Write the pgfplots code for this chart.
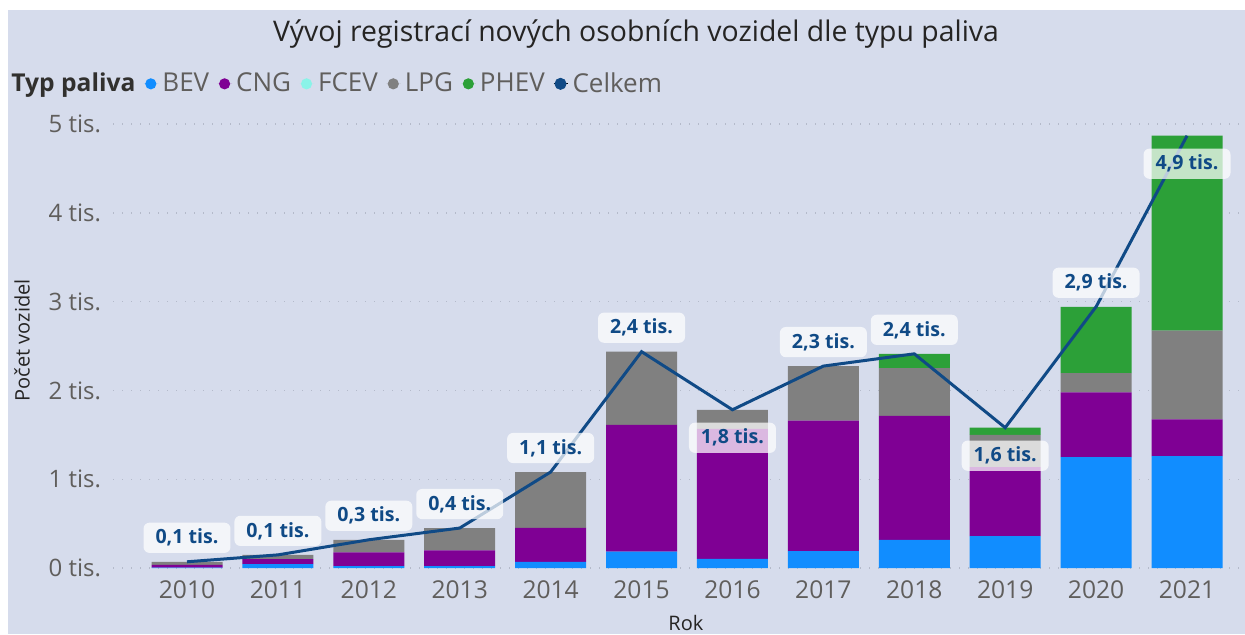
\documentclass[border=0pt]{standalone}
\usepackage{fontspec}
\setmainfont{Open Sans}
\usepackage{pgfplots}
\usepackage{pgfplotstable}
\pgfplotsset{compat=1.18}

\definecolor{bg}{RGB}{214,220,236}
\definecolor{cBEV}{RGB}{17,141,255}
\definecolor{cCNG}{RGB}{127,0,148}
\definecolor{cFCEV}{RGB}{138,243,232}
\definecolor{cLPG}{RGB}{128,128,128}
\definecolor{cPHEV}{RGB}{44,160,56}
\definecolor{cTot}{RGB}{16,74,134}
\definecolor{txt}{RGB}{96,94,92}
\definecolor{ttl}{RGB}{37,36,35}
\definecolor{gridc}{RGB}{180,186,202}

\pgfplotstableread{
x year BEV CNG FCEV LPG PHEV total
0 2010 5 30 0 35 0 70
1 2011 45 55 0 48 0 148
2 2012 22 154 0 142 0 318
3 2013 22 178 0 250 0 450
4 2014 68 383 0 630 0 1081
5 2015 184 1427 0 825 0 2436
6 2016 102 1465 0 215 0 1782
7 2017 191 1468 0 615 0 2274
8 2018 318 1396 0 536 162 2412
9 2019 358 777 0 365 80 1580
10 2020 1250 727 0 218 747 2942
11 2021 1261 412 0 999 2196 4868
}\data

\pgfplotstableread{
x total lab
0 70 0,1
1 148 0,1
2 318 0,3
3 450 0,4
4 1081 1,1
5 2436 2,4
7 2274 2,3
8 2412 2,4
10 2942 2,9
}\labAbove

\pgfplotstableread{
x total lab
6 1782 1,8
9 1580 1,6
11 4868 4,9
}\labBelow

\tikzset{
  lab/.style={font=\bfseries\fontsize{9.8}{12}\selectfont, text=cTot,
    fill=white, fill opacity=0.72, text opacity=1, rounded corners=3pt,
    inner xsep=6pt, inner ysep=3.2pt, anchor=center},
}

\pgfplotsset{
  common/.style={
    scale only axis,
    width=565pt, height=222pt,
    at={(56.5pt,33pt)}, anchor=south west,
    xmin=-0.814, xmax=11.616,
    ymin=0, ymax=5000,
    clip=false,
  },
  dotleg/.style={legend image code/.code={\path (-3.5pt,0pt) -- (3.8pt,0pt); \fill[#1] (0pt,0pt) circle (2.8pt);}},
}

\begin{document}
\begin{tikzpicture}
\useasboundingbox (0,0) rectangle (622.5pt,317pt);
\clip (0,0) rectangle (622.5pt,317pt);
\fill[white] (0,0) rectangle (622.5pt,317pt);
\fill[bg] (4pt,0) rectangle (622.5pt,312pt);

\begin{axis}[
  common,
  ybar stacked,
  bar width=35.5pt,
  axis line style={draw=none},
  tick style={draw=none},
  major tick length=0pt,
  xtick={0,...,11},
  xticklabels={2010,2011,2012,2013,2014,2015,2016,2017,2018,2019,2020,2021},
  xticklabel style={font=\fontsize{12.3}{14}\selectfont, text=txt, yshift=-3pt},
  ytick={0,1000,2000,3000,4000,5000},
  yticklabels={0 tis.,1 tis.,2 tis.,3 tis.,4 tis.,5 tis.},
  yticklabel style={font=\fontsize{12}{14}\selectfont, text=txt, xshift=-2.5pt},
  ymajorgrids,
  grid style={gridc, line width=0.7pt, dash pattern=on 0.7pt off 3.8pt},
  title={Vývoj registrací nových osobních vozidel dle typu paliva},
  title style={at={(rel axis cs:0.4628,1.176)}, anchor=center, yshift=0pt, font=\fontsize{14.2}{16}\selectfont, text=ttl},
  ylabel={Počet vozidel},
  ylabel style={at={(rel axis cs:-0.0805,0.513)}, anchor=center, rotate=0, font=\fontsize{10}{12}\selectfont, text=ttl},
  xlabel={Rok},
  xlabel style={at={(rel axis cs:0.507,-0.1235)}, anchor=center, inner sep=1pt, font=\fontsize{10}{12}\selectfont, text=ttl},
  legend columns=-1,
  legend style={draw=none, fill=none, at={(rel axis cs:-0.0938,1.0905)}, anchor=west,
    font=\fontsize{13}{15}\selectfont, text=txt,
    /tikz/every even column/.append style={column sep=2.2pt},
    inner xsep=0pt},
]
\addlegendimage{empty legend}
\addlegendentry{\textcolor{ttl!80!txt}{\fontsize{12.3}{14}\selectfont\bfseries Typ paliva}\hspace{2pt}}
\addplot[fill=cBEV, draw=none, dotleg=cBEV] table[x=x, y=BEV] {\data};
\addlegendentry{BEV}
\addplot[fill=cCNG, draw=none, dotleg=cCNG] table[x=x, y=CNG] {\data};
\addlegendentry{CNG}
\addplot[fill=cFCEV, draw=none, dotleg=cFCEV] table[x=x, y=FCEV] {\data};
\addlegendentry{FCEV}
\addplot[fill=cLPG, draw=none, dotleg=cLPG] table[x=x, y=LPG] {\data};
\addlegendentry{LPG}
\addplot[fill=cPHEV, draw=none, dotleg=cPHEV] table[x=x, y=PHEV] {\data};
\addlegendentry{PHEV}
\addlegendimage{dotleg=cTot}
\addlegendentry{Celkem}
\end{axis}

\begin{axis}[
  common,
  hide axis,
]
\addplot[cTot, line width=1.5pt, mark=none] table[x=x, y=total] {\data};
\addplot[draw=none, mark=none, nodes near coords={\pgfplotspointmeta~tis.},
  point meta=explicit symbolic,
  every node near coord/.style={lab, yshift=12pt}]
  table[x=x, y=total, meta=lab] {\labAbove};
\addplot[draw=none, mark=none, nodes near coords={\pgfplotspointmeta~tis.},
  point meta=explicit symbolic,
  every node near coord/.style={lab, yshift=-14pt}]
  table[x=x, y=total, meta=lab] {\labBelow};
\end{axis}
\end{tikzpicture}
\end{document}
